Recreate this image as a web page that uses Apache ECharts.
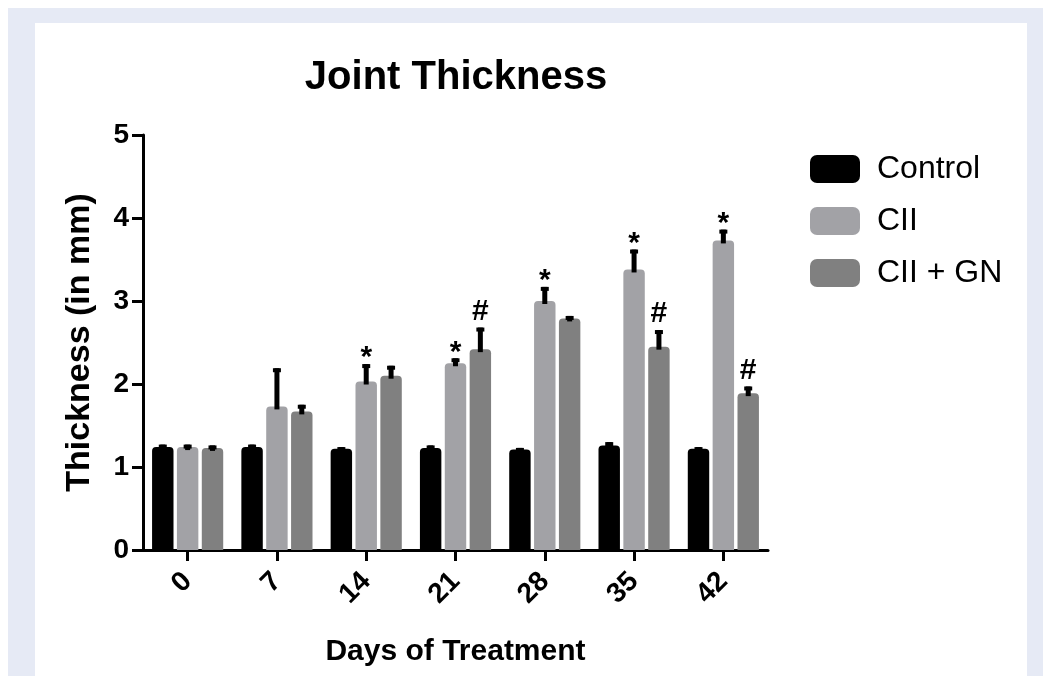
<!DOCTYPE html>
<html>
<head>
<meta charset="utf-8">
<script src="https://cdn.jsdelivr.net/npm/echarts@6/dist/echarts.min.js"></script>
<style>
html,body{margin:0;padding:0;background:#fff;}
#chart{width:1043px;height:676px;}
</style>
</head>
<body>
<div id="chart"></div>
<script>
const days = ['0', '7', '14', '21', '28', '35', '42'];
const seriesNames = ['Control', 'CII', 'CII + GN'];
const controlVals = [1.24, 1.24, 1.22, 1.23, 1.21, 1.26, 1.22];
const ciiVals     = [1.24, 1.73, 2.03, 2.25, 3.00, 3.38, 3.73];
const gnVals      = [1.23, 1.67, 2.10, 2.42, 2.79, 2.45, 1.89];
const controlErr  = [0.03, 0.03, 0.02, 0.03, 0.02, 0.04, 0.02];
const ciiErr      = [0.03, 0.46, 0.21, 0.06, 0.17, 0.24, 0.13];
const gnErr       = [0.03, 0.08, 0.12, 0.26, 0.03, 0.20, 0.08];
const controlMarks = ['', '', '', '', '', '', ''];
const ciiMarks     = ['', '', '*', '*', '*', '*', '*'];
const gnMarks      = ['', '', '', '#', '', '#', '#'];
const yTicks = [0, 1, 2, 3, 4, 5];

const colors = ['#000000', '#a2a2a6', '#808080'];
const FONT = "'Liberation Sans', Arial, Helvetica, sans-serif";
const BAR_FRAC = 0.24, GAP_FRAC = 0.16;

const groups = [
  {name: seriesNames[0], vals: controlVals, err: controlErr, marks: controlMarks},
  {name: seriesNames[1], vals: ciiVals, err: ciiErr, marks: ciiMarks},
  {name: seriesNames[2], vals: gnVals, err: gnErr, marks: gnMarks}
];

const series = [];
groups.forEach((g, gi) => {
  series.push({
    name: g.name,
    type: 'bar',
    data: g.vals,
    barWidth: (BAR_FRAC * 100) + '%',
    barGap: (GAP_FRAC * 100) + '%',
    itemStyle: {color: colors[gi], borderRadius: [4, 4, 0, 0]},
    z: 2
  });
});
groups.forEach((g, gi) => {
  series.push({
    name: 'err' + gi,
    type: 'custom',
    z: 5,
    data: g.vals.map((v, i) => [i, v, g.err[i]]),
    encode: {x: 0, y: 1},
    renderItem: function (params, api) {
      const idx = api.value(0), v = api.value(1), e = api.value(2);
      const band = api.size([1, 0])[0];
      const bw = band * BAR_FRAC;
      const off = (gi - 1) * bw * (1 + GAP_FRAC);
      const base = api.coord([idx, v]);
      const top = api.coord([idx, v + e]);
      const x = base[0] + off;
      const children = [
        {type: 'rect', shape: {x: x - 2.5, y: top[1], width: 5, height: base[1] - top[1] + 3}, style: {fill: '#000'}},
        {type: 'rect', shape: {x: x - 4, y: top[1], width: 8, height: 4}, style: {fill: '#000'}}
      ];
      const m = g.marks[idx];
      if (m) {
        children.push({
          type: 'text',
          style: {
            text: m, x: x, y: top[1] - (m === '*' ? 6 : 16),
            fill: '#000', font: 'bold 30px ' + FONT,
            textAlign: 'center', textVerticalAlign: 'middle'
          }
        });
      }
      return {type: 'group', children: children};
    }
  });
});

const chart = echarts.init(document.getElementById('chart'));
chart.setOption({
  animation: false,
  backgroundColor: '#ffffff',
  graphic: [
    {type: 'rect', z: -10, shape: {x: 8, y: 8, width: 1035, height: 680}, style: {fill: '#e6eaf5'}},
    {type: 'rect', z: -9, shape: {x: 35, y: 23, width: 992, height: 670}, style: {fill: '#ffffff'}}
  ],
  title: {
    text: 'Joint Thickness',
    left: 451, top: 53, textAlign: 'center',
    textStyle: {fontFamily: FONT, fontWeight: 'bold', fontSize: 40, color: '#000'}
  },
  legend: {
    data: seriesNames,
    orient: 'vertical',
    left: 805, top: 148,
    icon: 'roundRect',
    itemWidth: 50, itemHeight: 28, itemGap: 20,
    textStyle: {fontFamily: FONT, fontSize: 32, color: '#000', padding: [0, 0, 0, 12]}
  },
  grid: {left: 143, right: 275, top: 135, bottom: 126, containLabel: false},
  xAxis: {
    type: 'category',
    data: days,
    name: 'Days of Treatment',
    nameLocation: 'middle',
    nameGap: 87,
    nameTextStyle: {fontFamily: FONT, fontWeight: 'bold', fontSize: 30, color: '#000'},
    axisLine: {show: true, lineStyle: {color: '#000', width: 3}},
    axisTick: {show: true, inside: false, alignWithLabel: true, interval: 0, length: 11, lineStyle: {color: '#000', width: 3}},
    axisLabel: {rotate: 45, interval: 0, margin: 27, fontFamily: FONT, fontWeight: 'bold', fontSize: 28, color: '#000'}
  },
  yAxis: {
    type: 'value',
    min: yTicks[0], max: yTicks[yTicks.length - 1], interval: 1,
    name: 'Thickness (in mm)',
    nameLocation: 'middle',
    nameGap: 46,
    nameTextStyle: {fontFamily: FONT, fontWeight: 'bold', fontSize: 34, color: '#000'},
    axisLine: {show: true, lineStyle: {color: '#000', width: 3}},
    axisTick: {show: true, length: 11, lineStyle: {color: '#000', width: 3}},
    axisLabel: {margin: 14, fontFamily: FONT, fontWeight: 'bold', fontSize: 28, color: '#000'},
    splitLine: {show: false}
  },
  series: series
});
</script>
</body>
</html>
